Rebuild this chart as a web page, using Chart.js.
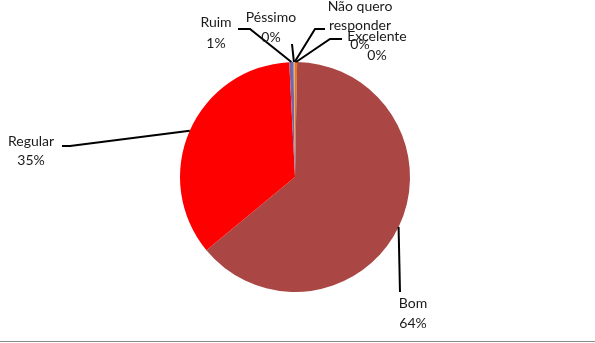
<!DOCTYPE html>
<html>
<head>
<meta charset="utf-8">
<script src="https://cdn.jsdelivr.net/npm/chart.js@4/dist/chart.umd.min.js"></script>
<style>
  html, body { margin: 0; padding: 0; background: #fff; }
  #wrap { position: relative; width: 595px; height: 343px; overflow: hidden; }
  #wrap::after { content: ''; position: absolute; left: 0; right: 0; top: 341px; height: 1px; background: #8a8a8a; }
</style>
</head>
<body>
<div id="wrap"><canvas id="pie" width="595" height="343"></canvas></div>
<script>
  // [1] DATA
  const CATEGORIES = ['Excelente', 'Bom', 'Regular', 'Ruim', 'Péssimo', 'Não quero responder'];
  const VALUES     = [0.3, 63.7, 35.2, 0.6, 0.1, 0.1];
  const LABEL_LINES = [['Excelente'], ['Bom'], ['Regular'], ['Ruim'], ['Péssimo'], ['Não quero', 'responder']];

  // [2] STYLE
  const SLICE_COLORS = ['#E8761E', '#AA4643', '#FF0000', '#7D64A0', '#4BACC6', '#F79646'];
  const FONT = '14px Lato';

  // [3] LABEL LAYOUT (text centre x, first line y, leader start + elbow)
  const LAYOUT = [
    { x: 377, y: 36, lh: 19, from: [342, 39], elbow: [330, 39] },
    { x: 413, y: 303, lh: 20, from: [400, 292], elbow: [400, 292] },
    { x: 31,  y: 141, lh: 19, from: [62, 146], elbow: [70, 146] },
    { x: 216, y: 22, lh: 21, from: [238, 29], elbow: [250, 29] },
    { x: 271, y: 17, lh: 20, from: [292, 44], elbow: [292, 44] },
    { x: 360, y: 6,  lh: 19, from: [325, 29], elbow: [315, 29] }
  ];

  const total = VALUES.reduce((a, b) => a + b, 0);
  const pct = v => Math.round(v / total * 100) + '%';

  // [4] LABEL + LEADER PLUGIN
  const leaderLabels = {
    id: 'leaderLabels',
    afterDatasetsDraw(chart) {
      const ctx = chart.ctx;
      const arcs = chart.getDatasetMeta(0).data;
      ctx.save();
      ctx.strokeStyle = '#000';
      ctx.lineWidth = 2;
      arcs.forEach((arc, i) => {
        const L = LAYOUT[i];
        const mid = (arc.startAngle + arc.endAngle) / 2;
        const ax = arc.x + Math.cos(mid) * arc.outerRadius;
        const ay = arc.y + Math.sin(mid) * arc.outerRadius;
        ctx.beginPath();
        ctx.moveTo(L.from[0], L.from[1]);
        ctx.lineTo(L.elbow[0], L.elbow[1]);
        ctx.lineTo(ax, ay);
        ctx.stroke();
      });
      ctx.font = FONT;
      ctx.fillStyle = '#1a1a1a';
      ctx.textAlign = 'center';
      ctx.textBaseline = 'middle';
      arcs.forEach((arc, i) => {
        const L = LAYOUT[i];
        const lines = LABEL_LINES[i].concat([pct(VALUES[i])]);
        lines.forEach((t, k) => ctx.fillText(t, L.x, L.y + k * L.lh));
      });
      ctx.restore();
    }
  };

  // [5] CHART
  new Chart(document.getElementById('pie'), {
    type: 'pie',
    data: {
      labels: CATEGORIES,
      datasets: [{
        data: VALUES,
        backgroundColor: SLICE_COLORS,
        borderWidth: 0
      }]
    },
    options: {
      responsive: false,
      animation: false,
      layout: { padding: { left: 180, right: 185, top: 62, bottom: 51 } },
      plugins: { legend: { display: false }, tooltip: { enabled: false } }
    },
    plugins: [leaderLabels]
  });
</script>
</body>
</html>
